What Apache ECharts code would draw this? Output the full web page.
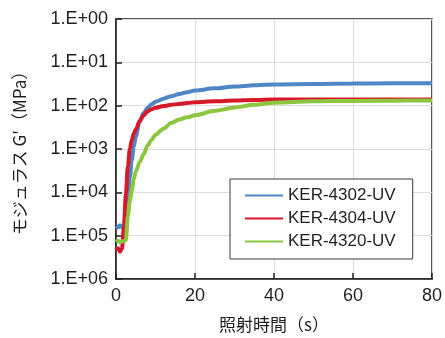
<!DOCTYPE html>
<html>
<head>
<meta charset="utf-8">
<script src="https://cdn.jsdelivr.net/npm/echarts@6/dist/echarts.min.js"></script>
<style>
html,body{margin:0;padding:0;background:#fff;}
#c{width:445px;height:338px;}
</style>
</head>
<body>
<div id="c"></div>
<script>
// Irradiation time (s)
const times = [0, 0.5, 1, 1.5, 2, 2.5, 3, 3.5, 4, 4.5, 5, 6, 7, 8, 9, 10, 12, 14, 16, 18, 20, 25, 30, 35, 40, 50, 60, 70, 80];
// Exponents (value = 10^exp)
const blueExp  = [4.78, 4.81, 4.76, 4.80, 4.75, 4.50, 4.10, 3.66, 3.25, 2.95, 2.72, 2.35, 2.17, 2.05, 1.97, 1.91, 1.84, 1.78, 1.73, 1.69, 1.65, 1.60, 1.56, 1.53, 1.51, 1.50, 1.49, 1.485, 1.48];
const redExp   = [5.33, 5.29, 5.37, 5.31, 4.80, 4.05, 3.40, 3.00, 2.78, 2.65, 2.55, 2.36, 2.22, 2.13, 2.08, 2.05, 2.01, 1.98, 1.96, 1.94, 1.92, 1.90, 1.88, 1.87, 1.86, 1.86, 1.86, 1.86, 1.86];
const greenExp = [5.14, 5.12, 5.15, 5.13, 5.13, 5.10, 4.55, 4.20, 3.95, 3.70, 3.52, 3.30, 3.12, 2.92, 2.79, 2.67, 2.53, 2.40, 2.32, 2.27, 2.22, 2.12, 2.04, 1.98, 1.93, 1.90, 1.89, 1.885, 1.88];
const seriesNames = ['KER-4302-UV', 'KER-4304-UV', 'KER-4320-UV'];
const seriesColors = ['#4f86c6', '#d7182a', '#8cc63f'];
const yTickLabels = ['1.E+00', '1.E+01', '1.E+02', '1.E+03', '1.E+04', '1.E+05', '1.E+06'];
const xTicks = [0, 20, 40, 60, 80];

const toPairs = (ex) => times.map((t, i) => [t, Math.pow(10, ex[i])]);
const allExp = [blueExp, redExp, greenExp];

const FONT = '"Liberation Sans", Arial, "Noto Sans CJK JP", sans-serif';
const TXT = '#231f20';

const chart = echarts.init(document.getElementById('c'), null, {renderer: 'canvas'});
chart.setOption({
  animation: false,
  textStyle: {fontFamily: FONT, color: TXT},
  grid: {left: 116, right: 12, top: 19, bottom: 55, show: true, borderColor: TXT, borderWidth: 1.5, backgroundColor: 'transparent'},
  xAxis: {
    type: 'value', min: 0, max: 80, interval: 20,
    name: '照射時間（s）', nameLocation: 'middle', nameGap: 37,
    nameTextStyle: {fontSize: 17, color: TXT, fontFamily: '"Noto Sans CJK JP", sans-serif'},
    axisLine: {show: true, lineStyle: {color: TXT, width: 1.5}},
    axisTick: {show: true, inside: true, length: 6, lineStyle: {color: TXT, width: 1.5}},
    axisLabel: {fontSize: 18, color: TXT, margin: 8, fontFamily: FONT},
    splitLine: {show: true, lineStyle: {color: '#dcdcdc', width: 1}}
  },
  yAxis: {
    type: 'log', logBase: 10, min: 1, max: 1e6, inverse: true,
    name: "モジュラス G'（MPa）", nameLocation: 'middle', nameGap: 88, nameRotate: 90,
    nameTextStyle: {fontSize: 17, color: TXT, fontFamily: '"Noto Sans CJK JP", sans-serif'},
    axisLine: {show: true, lineStyle: {color: TXT, width: 1.5}},
    axisTick: {show: true, inside: true, length: 6, lineStyle: {color: TXT, width: 1.5}},
    axisLabel: {
      fontSize: 18, color: TXT, margin: 8, fontFamily: FONT,
      formatter: (v) => yTickLabels[Math.round(Math.log10(v))]
    },
    splitLine: {show: true, lineStyle: {color: '#dcdcdc', width: 1}}
  },
  legend: {
    left: 230, top: 179, orient: 'vertical',
    padding: [8, 17, 9, 15], itemGap: 6,
    itemWidth: 38, itemHeight: 14,
    backgroundColor: '#fff', borderColor: '#3a3a3a', borderWidth: 1,
    textStyle: {fontSize: 17, color: TXT, fontFamily: FONT},
    data: seriesNames.map((n) => ({name: n, icon: 'path://M0,6 L38,6 L38,8 L0,8 Z'}))
  },
  series: seriesNames.map((n, i) => ({
    name: n, type: 'line', data: toPairs(allExp[i]),
    symbol: 'none', smooth: 0.3, smoothMonotone: 'x',
    lineStyle: {color: seriesColors[i], width: 4},
    itemStyle: {color: seriesColors[i]}
  }))
});
</script>
</body>
</html>
